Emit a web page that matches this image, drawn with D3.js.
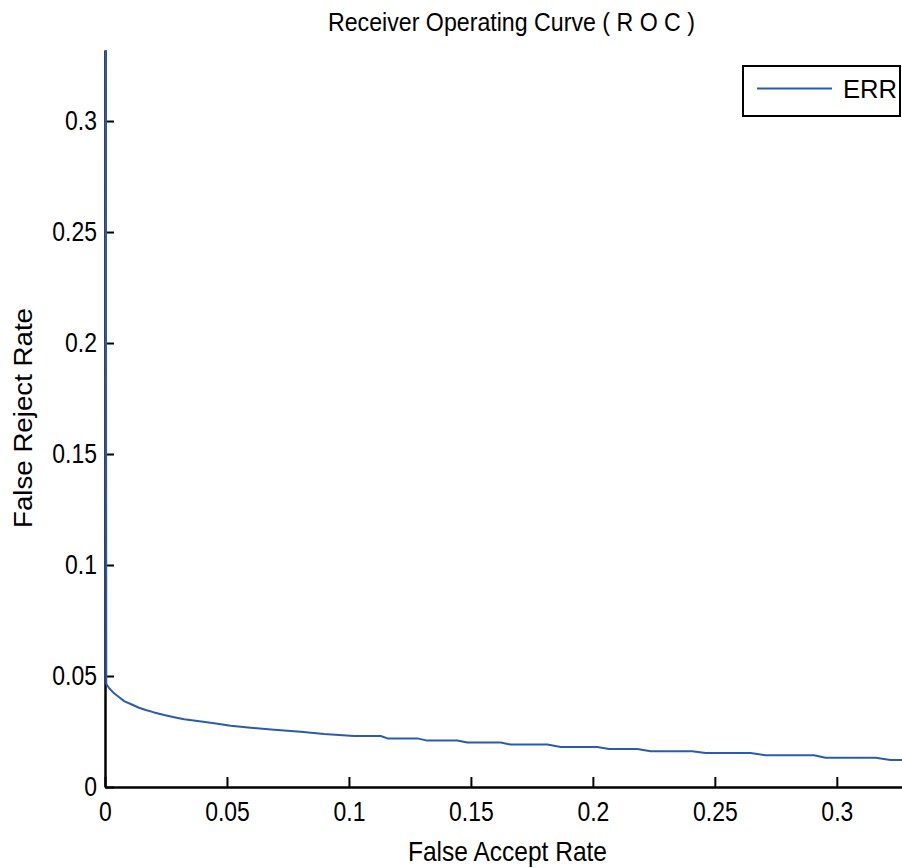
<!DOCTYPE html>
<html>
<head>
<meta charset="utf-8">
<script src="https://cdn.jsdelivr.net/npm/d3@7"></script>
<style>
    html, body { margin: 0; padding: 0; background: #fff; }
    svg { display: block; font-family: "Liberation Sans", Arial, sans-serif; }
</style>
</head>
<body>
<div id="chart"></div>
<script>
// ROC curve values
var farValues = [0, 0.0002, 0.0014, 0.0034, 0.0055, 0.0075, 0.0102, 0.0136, 0.0164, 0.0198,
    0.0239, 0.0280, 0.0321, 0.0376, 0.0444, 0.0512, 0.0594, 0.0690, 0.0799, 0.0895,
    0.1018, 0.1127, 0.1155, 0.1277, 0.1318, 0.1441, 0.1482, 0.1619, 0.1660, 0.1810,
    0.1865, 0.2015, 0.2063, 0.2179, 0.2234, 0.2404, 0.2459, 0.2643, 0.2705, 0.2903,
    0.2951, 0.3156, 0.3217, 0.33];
var frrValues = [0.332, 0.0464, 0.0445, 0.0422, 0.0404, 0.0387, 0.0374, 0.0357, 0.0347, 0.0336,
    0.0324, 0.0314, 0.0305, 0.0297, 0.0287, 0.0276, 0.0267, 0.0258, 0.0249, 0.0239,
    0.0230, 0.0230, 0.0219, 0.0219, 0.0209, 0.0209, 0.0200, 0.0200, 0.0191, 0.0191,
    0.0180, 0.0180, 0.0171, 0.0171, 0.0161, 0.0161, 0.0153, 0.0153, 0.0143, 0.0143,
    0.0132, 0.0132, 0.0122, 0.0122];

var xTicks = [0, 0.05, 0.1, 0.15, 0.2, 0.25, 0.3];
var xTickLabels = ["0", "0.05", "0.1", "0.15", "0.2", "0.25", "0.3"];
var yTicks = [0, 0.05, 0.1, 0.15, 0.2, 0.25, 0.3];
var yTickLabels = ["0", "0.05", "0.1", "0.15", "0.2", "0.25", "0.3"];
var seriesName = "ERR";

(function () {
    "use strict";

    var W = 902, H = 868;
    var left = 105, right = 910, top = 50, bottom = 787;
    var blue = "#2b5bb0";

    var svg = d3.select("#chart").append("svg")
        .attr("width", W)
        .attr("height", H);

    var x = d3.scaleLinear().domain([0, 0.33]).range([left, right]);
    var y = d3.scaleLinear().domain([0, 0.332]).range([bottom, top]);

    // squeeze glyphs a little, the picture's text is narrower than Liberation Sans
    function squeeze(sel, k) {
        sel.each(function () {
            var w = this.getComputedTextLength();
            this.setAttribute("textLength", w * k);
            this.setAttribute("lengthAdjust", "spacingAndGlyphs");
        });
    }

    // X axis
    var gx = svg.append("g")
        .attr("transform", "translate(0," + bottom + ")")
        .call(d3.axisBottom(x)
            .tickValues(xTicks)
            .tickFormat(function (d, i) { return xTickLabels[i]; })
            .tickSizeInner(-10)
            .tickSizeOuter(0)
            .tickPadding(15));

    // Y axis
    var gy = svg.append("g")
        .attr("transform", "translate(" + left + ",0)")
        .call(d3.axisLeft(y)
            .tickValues(yTicks)
            .tickFormat(function (d, i) { return yTickLabels[i]; })
            .tickSizeInner(-9)
            .tickSizeOuter(0)
            .tickPadding(8));

    [gx, gy].forEach(function (g) {
        g.select(".domain").attr("stroke", "#000").attr("stroke-width", 2.5);
        g.selectAll(".tick line").attr("stroke", "#000").attr("stroke-width", 2);
        g.selectAll(".tick text")
            .attr("fill", "#000")
            .attr("font-family", "Liberation Sans, Arial, sans-serif")
            .attr("font-size", 27)
            .call(squeeze, 0.85);
    });

    // Curve
    var pts = farValues.map(function (v, i) { return [v, frrValues[i]]; });

    svg.append("clipPath").attr("id", "plotclip")
        .append("rect")
        .attr("x", left - 2).attr("y", top)
        .attr("width", right - left + 2).attr("height", bottom - top);

    svg.append("path")
        .datum(pts)
        .attr("clip-path", "url(#plotclip)")
        .attr("fill", "none")
        .attr("stroke", blue)
        .attr("stroke-width", 2)
        .attr("stroke-linejoin", "round")
        .attr("d", d3.line()
            .x(function (d) { return x(d[0]) + 0.8; })
            .y(function (d) { return y(d[1]); }));

    // Title
    svg.append("text")
        .attr("x", 511.5)
        .attr("y", 31)
        .attr("text-anchor", "middle")
        .attr("font-size", 25)
        .attr("textLength", 367)
        .attr("lengthAdjust", "spacingAndGlyphs")
        .text("Receiver Operating Curve ( R O C )");

    // Axis labels
    svg.append("text")
        .attr("x", 507.5)
        .attr("y", 861)
        .attr("text-anchor", "middle")
        .attr("font-size", 28)
        .attr("textLength", 199)
        .attr("lengthAdjust", "spacingAndGlyphs")
        .text("False Accept Rate");

    svg.append("text")
        .attr("transform", "translate(32,418) rotate(-90)")
        .attr("text-anchor", "middle")
        .attr("font-size", 25)
        .attr("textLength", 220)
        .attr("lengthAdjust", "spacingAndGlyphs")
        .text("False Reject Rate");

    // Legend
    var lg = svg.append("g");
    lg.append("rect")
        .attr("x", 743).attr("y", 66)
        .attr("width", 157).attr("height", 50)
        .attr("fill", "#fff")
        .attr("stroke", "#000")
        .attr("stroke-width", 2);
    lg.append("line")
        .attr("x1", 757).attr("x2", 832)
        .attr("y1", 88.5).attr("y2", 88.5)
        .attr("stroke", blue)
        .attr("stroke-width", 2);
    lg.append("text")
        .attr("x", 843)
        .attr("y", 98)
        .attr("font-size", 25)
        .attr("textLength", 54)
        .attr("lengthAdjust", "spacingAndGlyphs")
        .text(seriesName);
})();
</script>
</body>
</html>
